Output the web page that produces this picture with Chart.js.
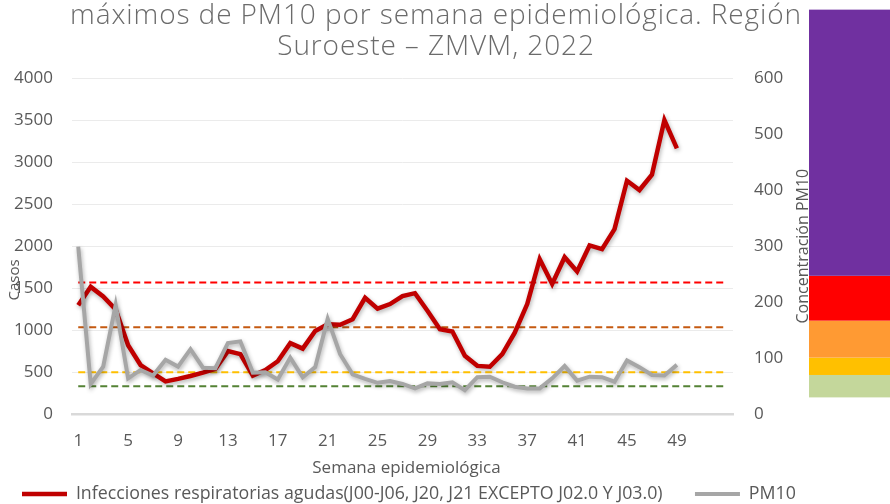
<!DOCTYPE html>
<html>
<head>
  <meta charset="utf-8">
  <title>IRA y PM10 - Suroeste ZMVM 2022</title>
  <script src="https://cdn.jsdelivr.net/npm/chart.js"></script>
  <style>
    body { margin: 0; background: #fff; }
    #wrap { width: 890px; height: 504px; position: relative; }
  </style>
</head>
<body>
  <div id="wrap"><canvas id="iraChart"></canvas></div>

  <script>
    // semanas epidemiológicas del eje x
    const semanas = [1, 2, 3, 4, 5, 6, 7, 8, 9, 10, 11, 12, 13, 14, 15, 16, 17, 18, 19, 20,
      21, 22, 23, 24, 25, 26, 27, 28, 29, 30, 31, 32, 33, 34, 35, 36, 37, 38, 39, 40,
      41, 42, 43, 44, 45, 46, 47, 48, 49, 50, 51, 52, 53];

    // casos de IRA por semana (semanas 1-49)
    const casos = [1295, 1515, 1400, 1245, 820, 585, 485, 390, 420, 455,
      495, 540, 750, 715, 460, 525, 630, 845, 780, 990,
      1070, 1065, 1130, 1385, 1255, 1310, 1405, 1440, 1230, 1010,
      985, 695, 575, 565, 715, 970, 1310, 1845, 1550, 1868,
      1698, 2008, 1964, 2202, 2777, 2667, 2850, 3500, 3162];

    // máximos semanales de PM10 (µg/m³)
    const pm10 = [299, 54, 85, 195, 64, 79, 69, 97, 85, 116,
      83, 82, 127, 130, 74, 75, 62, 101, 66, 84,
      170, 107, 71, 63, 56, 59, 54, 46, 55, 54,
      57, 43, 66, 67, 57, 49, 46, 46, 64, 86,
      60, 67, 66, 58, 96, 84, 70, 69, 88];

    // límites de PM10 (líneas punteadas)
    const limites = [235, 155, 75, 50];
    const coloresLimite = ['#FF0000', '#C55A11', '#FFC000', '#548235'];

    // franjas de la barra de color lateral (en unidades de PM10)
    const bandas = [30, 70, 101, 167, 247, 722];
    const coloresBanda = ['#C4D79B', '#FFC000', '#FF9A33', '#FF0000', '#7030A0'];

    const tituloLineas = ['máximos de PM10 por semana epidemiológica. Región', 'Suroeste – ZMVM, 2022'];

    const gris = '#595959';
    const fuente = '"Open Sans", "DejaVu Sans", sans-serif';

    const ctx = document.getElementById('iraChart').getContext('2d');

    const datasets = [
      {
        label: 'Infecciones respiratorias agudas(J00-J06, J20, J21 EXCEPTO J02.0 Y J03.0)',
        data: casos,
        yAxisID: 'y',
        borderColor: '#C00000',
        backgroundColor: '#C00000',
        borderWidth: 4.5,
        pointRadius: 0,
        tension: 0,
        order: 2
      },
      {
        label: 'PM10',
        data: pm10,
        yAxisID: 'y1',
        borderColor: '#A6A6A6',
        backgroundColor: '#A6A6A6',
        borderWidth: 4,
        pointRadius: 0,
        tension: 0,
        order: 1
      }
    ];

    limites.forEach((v, i) => {
      datasets.push({
        label: 'Límite ' + v,
        data: [{ x: String(semanas[0]), y: v }, { x: String(semanas[semanas.length - 1]), y: v }],
        yAxisID: 'y1',
        borderColor: coloresLimite[i],
        borderWidth: 2,
        borderDash: [7, 4],
        pointRadius: 0,
        order: 3 + i
      });
    });

    // sombra suave bajo las dos series principales
    const sombra = {
      id: 'sombra',
      beforeDatasetDraw(chart, args) {
        if (args.index > 1) return;
        const c = chart.ctx;
        c.save();
        c.shadowColor = 'rgba(0,0,0,0.3)';
        c.shadowBlur = 4;
        c.shadowOffsetX = 1;
        c.shadowOffsetY = 2;
      },
      afterDatasetDraw(chart, args) {
        if (args.index > 1) return;
        chart.ctx.restore();
      }
    };

    // títulos, nombres de ejes y barra de color
    const textos = {
      id: 'textos',
      afterDraw(chart) {
        const c = chart.ctx;
        const a = chart.chartArea;
        const y1 = chart.scales.y1;
        c.save();
        c.fillStyle = '#6B6B6B';
        c.font = '300 28px ' + fuente;
        c.letterSpacing = '0.9px';
        c.textAlign = 'center';
        c.textBaseline = 'alphabetic';
        c.fillText(tituloLineas[0], 436, 24);
        c.fillText(tituloLineas[1], 436, 55);
        c.letterSpacing = '0px';

        c.fillStyle = gris;
        c.textBaseline = 'middle';
        c.font = '17px ' + fuente;
        c.fillText('Semana epidemiológica', (a.left + a.right) / 2 + 4, 468);

        c.save();
        c.translate(15, 280);
        c.rotate(-Math.PI / 2);
        c.font = '15px ' + fuente;
        c.fillText('Casos', 0, 0);
        c.restore();

        c.save();
        c.translate(803, (a.top + a.bottom) / 2);
        c.rotate(-Math.PI / 2);
        c.font = '16px ' + fuente;
        c.fillText('Concentración PM10', 0, 0);
        c.restore();

        const x0 = a.right + 76;
        for (let i = 0; i < coloresBanda.length; i++) {
          const top = y1.getPixelForValue(bandas[i + 1]);
          const bot = y1.getPixelForValue(bandas[i]);
          c.fillStyle = coloresBanda[i];
          c.fillRect(x0, top, chart.width - x0, bot - top);
        }
        c.restore();
      }
    };

    new Chart(ctx, {
      type: 'line',
      data: {
        labels: semanas.map(String),
        datasets: datasets
      },
      options: {
        responsive: true,
        maintainAspectRatio: false,
        animation: false,
        layout: { padding: { top: 78, left: 12, right: 0, bottom: -9 } },
        plugins: {
          title: { display: false },
          tooltip: { enabled: false },
          legend: {
            position: 'bottom',
            align: 'start',
            labels: {
              color: gris,
              font: { family: fuente, size: 17.8 },
              usePointStyle: true,
              pointStyle: 'line',
              pointStyleWidth: 45,
              padding: 10,
              filter: item => item.datasetIndex < 2,
              sort: (a, b) => a.datasetIndex - b.datasetIndex,
              generateLabels: chart => {
                const items = Chart.defaults.plugins.legend.labels.generateLabels(chart);
                items.forEach(it => { if (it.datasetIndex === 0) it.text += '\u2003 '; });
                return items;
              }
            }
          }
        },
        scales: {
          x: {
            offset: true,
            grid: { display: false, drawTicks: false },
            border: { display: true, color: '#D9D9D9', width: 2.5 },
            ticks: {
              color: gris,
              font: { family: fuente, size: 17 },
              autoSkip: false,
              maxRotation: 0,
              padding: 17,
              callback: (v, i) => (i % 4 === 0 && i < casos.length) ? semanas[i] : ''
            },
            afterFit: s => { s.height = 61; }
          },
          y: {
            position: 'left',
            min: 0,
            max: 4000,
            ticks: { stepSize: 500, color: gris, font: { family: fuente, size: 17 }, padding: 19, callback: v => String(v) },
            grid: { color: '#EBEBEB', lineWidth: 1, drawTicks: false },
            border: { display: false },
            afterFit: s => { s.width = 60; }
          },
          y1: {
            position: 'right',
            min: 0,
            max: 600,
            ticks: { stepSize: 100, color: gris, font: { family: fuente, size: 17 }, padding: 21, callback: v => String(v) },
            grid: { display: false, drawTicks: false },
            border: { display: false },
            afterFit: s => { s.width = 157; }
          }
        }
      },
      plugins: [sombra, textos]
    });
  </script>
</body>
</html>
